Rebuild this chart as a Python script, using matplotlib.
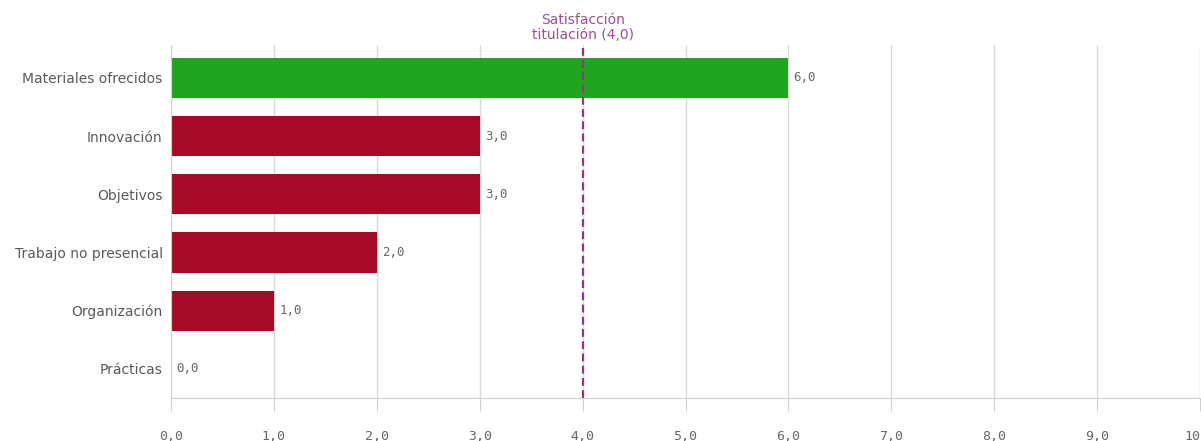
import matplotlib.pyplot as plt

categories = ['Materiales ofrecidos', 'Innovación', 'Objetivos',
              'Trabajo no presencial', 'Organización', 'Prácticas']
values = [6.0, 3.0, 3.0, 2.0, 1.0, 0.0]
target = 4.0
target_label = 'Satisfacción\ntitulación (4,0)'
xticks = [0, 1, 2, 3, 4, 5, 6, 7, 8, 9, 10]

green = '#1fa51f'
red = '#a50b26'
purple = '#8b3a80'

fig = plt.figure(figsize=(12.01, 4.41), dpi=100)
ax = fig.add_axes([171 / 1201, 1 - 398 / 441, (1200 - 171) / 1201, (398 - 45) / 441])

colors = [green if v >= target else red for v in values]
ypos = list(range(len(categories)))
ax.barh(ypos, values, height=0.69, color=colors)

for y, v in zip(ypos, values):
    ax.text(v + 0.05, y, f'{v:.1f}'.replace('.', ','), va='center', ha='left',
            fontsize=9, family='DejaVu Sans Mono', color='#666666')

ax.axvline(target, color=purple, linestyle=(0, (3.5, 2)), linewidth=1.6, zorder=3)
ax.text(target, 1.05, target_label, transform=ax.get_xaxis_transform(),
        ha='center', va='center', fontsize=10, color='#9c5090', linespacing=1.1)

ax.set_xlim(0, 10)
ax.set_ylim(5.5, -0.567)
ax.set_xticks(xticks)
ax.set_xticklabels([f'{t:.1f}'.replace('.', ',') for t in xticks],
                   family='DejaVu Sans Mono', fontsize=9.5, color='#666666')
ax.set_yticks(ypos)
ax.set_yticklabels(categories, fontsize=10, color='#595959')

ax.grid(axis='x', color='#d9d9d9', linewidth=1)
ax.set_axisbelow(True)
for s in ['top', 'right']:
    ax.spines[s].set_visible(False)
ax.spines['left'].set_color('#d0d0d0')
ax.spines['bottom'].set_color('#d0d0d0')
ax.tick_params(axis='y', length=0, pad=6)
ax.tick_params(axis='x', length=9, color='#d0d0d0', pad=14)

fig.savefig('out.png', dpi=100)
